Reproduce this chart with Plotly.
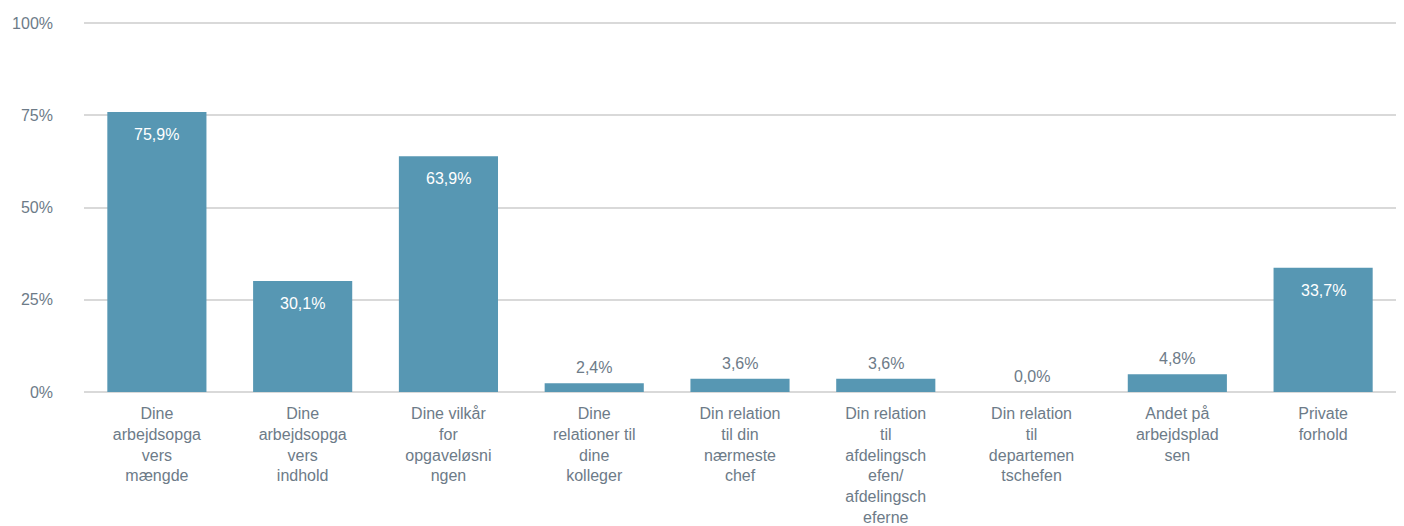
import plotly.graph_objects as go

# kategorier og andele (%)
kategorier = [
    "Dine<br>arbejdsopga<br>vers<br>mængde",
    "Dine<br>arbejdsopga<br>vers<br>indhold",
    "Dine vilkår<br>for<br>opgaveløsni<br>ngen",
    "Dine<br>relationer til<br>dine<br>kolleger",
    "Din relation<br>til din<br>nærmeste<br>chef",
    "Din relation<br>til<br>afdelingsch<br>efen/<br>afdelingsch<br>eferne",
    "Din relation<br>til<br>departemen<br>tschefen",
    "Andet på<br>arbejdsplad<br>sen",
    "Private<br>forhold",
]
andele = [75.9, 30.1, 63.9, 2.4, 3.6, 3.6, 0.0, 4.8, 33.7]
y_ticks = [0, 25, 50, 75, 100]
y_tekst = ["0%", "25%", "50%", "75%", "100%"]

bar_farve = "#5797b3"
tekst_farve = "#6d7b88"
skrift = "Liberation Sans, Arial, sans-serif"

fig = go.Figure()
fig.add_trace(go.Bar(
    x=list(range(len(kategorier))),
    y=andele,
    marker=dict(color=bar_farve, line=dict(width=0)),
    hoverinfo="skip",
))

# dataetiketter: hvide inde i store søjler, grå over små
for i, v in enumerate(andele):
    tekst = f"{v:.1f}".replace(".", ",") + "%"
    if v > 20:
        fig.add_annotation(x=i, y=v, text=tekst, showarrow=False,
                           yanchor="top", yshift=-12,
                           font=dict(color="white", size=16, family=skrift))
    else:
        fig.add_annotation(x=i, y=v, text=tekst, showarrow=False,
                           yanchor="bottom", yshift=5,
                           font=dict(color=tekst_farve, size=16, family=skrift))

# siden har 8px body-margin, så figuren gøres 8px mindre
fig.update_layout(
    width=1396, height=518,
    margin=dict(l=76, r=8, t=14, b=134),
    plot_bgcolor="white", paper_bgcolor="white",
    bargap=0.32,
    showlegend=False,
    font=dict(family=skrift, size=16, color=tekst_farve),
)
fig.update_xaxes(
    tickmode="array", tickvals=list(range(len(kategorier))), ticktext=kategorier,
    range=[-0.5, len(kategorier) - 0.5],
    showgrid=False, showline=False, ticks="",
    ticklabelstandoff=10, automargin=False,
    tickfont=dict(size=16, color=tekst_farve),
)
fig.update_yaxes(
    range=[0, 100.3], tickmode="array", tickvals=y_ticks, ticktext=y_tekst,
    showgrid=True, gridcolor="#d9d9d9", gridwidth=2,
    zeroline=True, zerolinecolor="#d9d9d9", zerolinewidth=2,
    showline=False, ticks="", ticklabelstandoff=30, automargin=False,
    tickfont=dict(size=16, color=tekst_farve),
)

fig.write_html("out.html")
